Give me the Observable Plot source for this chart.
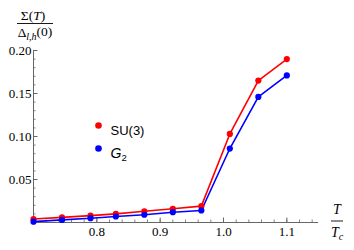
<!DOCTYPE html>
<html>
<head>
<meta charset="utf-8">
<script src="https://cdn.jsdelivr.net/npm/d3@7"></script>
<script src="https://cdn.jsdelivr.net/npm/@observablehq/plot@0.6"></script>
<style>
  html, body { margin: 0; padding: 0; background: #fff; }
  #chart { width: 354px; height: 250px; }
</style>
</head>
<body>
<div id="chart"></div>
<script>
// ---- data ----
const tRatio = [0.70, 0.745, 0.79, 0.83, 0.875, 0.92, 0.965, 1.01, 1.055, 1.10];
const su3 = [0.004, 0.006, 0.008, 0.010, 0.013, 0.016, 0.019, 0.103, 0.165, 0.190];
const g2  = [0.001, 0.003, 0.005, 0.007, 0.009, 0.012, 0.014, 0.086, 0.146, 0.171];
const seriesNames = ["SU(3)", "G2"];
const seriesColors = ["#ff0000", "#0000ff"];
const xMajor = [0.8, 0.9, 1.0, 1.1];
const xMinor = d3.range(0, 23).map(i => +(0.70 + i * 0.02).toFixed(2));
const yMajor = [0.05, 0.10, 0.15, 0.20];
const yMinor = d3.range(0, 21).map(i => +(i * 0.01).toFixed(2));
const xDomain = [0.70, 1.15];
const yDomain = [0, 0.20];

const rows = [];
tRatio.forEach((t, i) => {
  rows.push({series: seriesNames[0], t, v: su3[i]});
  rows.push({series: seriesNames[1], t, v: g2[i]});
});

const W = 354, H = 250, mL = 33, mR = 36, mT = 50, mB = 28;
const plotW = W - mL - mR, plotH = H - mT - mB;
const axisColor = "#666";
const serif = "'Liberation Serif', 'Times New Roman', serif";
const sans = "'Liberation Sans', Arial, sans-serif";

const legendMarks = seriesNames.flatMap((name, i) => [
  Plot.dot([name], {frameAnchor: "top-left", dx: 65, dy: 75 + i * 23, r: 3.3, fill: seriesColors[i]}),
  Plot.text([name], {frameAnchor: "top-left", dx: 77, dy: 75 + i * 23, text: d => d, textAnchor: "start",
    fontFamily: sans, fontSize: 13, fill: "#000"})
]);

const chart = Plot.plot({
  width: W, height: H,
  marginLeft: mL, marginRight: mR, marginTop: mT, marginBottom: mB,
  style: {fontFamily: serif, fontSize: "12.5px", background: "#fff", color: "#000", overflow: "visible"},
  x: {domain: xDomain},
  y: {domain: yDomain},
  color: {domain: seriesNames, range: seriesColors},
  marks: [
    Plot.ruleX([xDomain[0]], {stroke: axisColor, strokeWidth: 1}),
    Plot.ruleY([yDomain[0]], {stroke: axisColor, strokeWidth: 1}),
    Plot.tickY(yMinor, {y: d => d, insetRight: plotW - 2.5, stroke: axisColor, strokeWidth: 0.8}),
    Plot.tickY(yMajor, {y: d => d, insetRight: plotW - 4.5, stroke: axisColor, strokeWidth: 1}),
    Plot.tickX(xMinor, {x: d => d, insetTop: plotH - 2.5, stroke: axisColor, strokeWidth: 0.8}),
    Plot.tickX(xMajor, {x: d => d, insetTop: plotH - 4.5, stroke: axisColor, strokeWidth: 1}),
    Plot.axisY({ticks: yMajor, tickSize: 0, tickPadding: 2, tickFormat: d3.format(".2f"), label: null, fill: "#000", fontFamily: serif, fontSize: 13}),
    Plot.axisX({ticks: xMajor, tickSize: 0, tickPadding: 4, tickFormat: d3.format(".1f"), label: null, fill: "#000", fontFamily: serif, fontSize: 13}),
    Plot.line(rows, {x: "t", y: "v", z: "series", stroke: "series", strokeWidth: 1.6}),
    Plot.dot(rows, {x: "t", y: "v", fill: "series", r: 3.1}),
    ...legendMarks
  ]
});

document.getElementById("chart").appendChild(chart);

const svg = d3.select(chart);
// G2 legend label: italic G with subscript 2
svg.selectAll("text").filter(function() { return this.textContent === "G2"; }).each(function() {
  const t = d3.select(this);
  t.text(null);
  t.append("tspan").attr("font-style", "italic").attr("font-size", 14).text("G");
  t.append("tspan").attr("font-size", 9.5).attr("dy", "0.3em").text("2");
});

// y-axis label: Σ(T) / Δ_{l,h}(0)
const yl = svg.append("g").attr("font-family", serif).attr("font-size", 13.5).attr("fill", "#000");
const num = yl.append("text").attr("x", 33).attr("y", 19.5).attr("text-anchor", "middle");
num.append("tspan").text("Σ(");
num.append("tspan").attr("font-style", "italic").text("T");
num.append("tspan").text(")");
yl.append("line").attr("x1", 17).attr("x2", 53).attr("y1", 23.5).attr("y2", 23.5).attr("stroke", "#000").attr("stroke-width", 0.9);
const den = yl.append("text").attr("x", 35).attr("y", 37).attr("text-anchor", "middle");
den.append("tspan").text("Δ");
den.append("tspan").attr("font-style", "italic").attr("font-size", 10).attr("dy", "0.25em").text("l,h");
den.append("tspan").attr("dy", "-0.25em").text("(0)");

// x-axis label: T / T_c
const xl = svg.append("g").attr("font-family", serif).attr("font-size", 14).attr("fill", "#000");
xl.append("text").attr("x", 337).attr("y", 214).attr("text-anchor", "middle").attr("font-style", "italic").text("T");
xl.append("line").attr("x1", 331).attr("x2", 343).attr("y1", 221).attr("y2", 221).attr("stroke", "#000").attr("stroke-width", 0.9);
const tc = xl.append("text").attr("x", 337).attr("y", 237).attr("text-anchor", "middle").attr("font-style", "italic");
tc.append("tspan").text("T");
tc.append("tspan").attr("font-size", 10).attr("dy", "0.25em").text("c");
</script>
</body>
</html>
